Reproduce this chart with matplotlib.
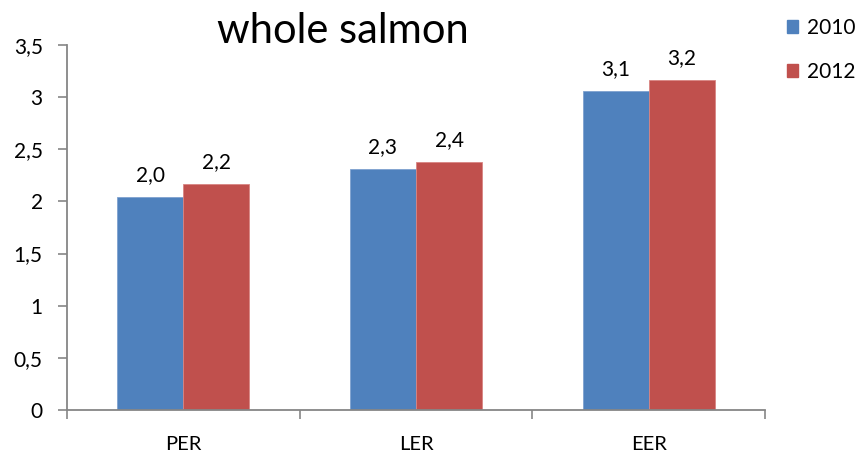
import numpy as np
import matplotlib.pyplot as plt
from matplotlib.patches import Patch

plt.rcParams['font.family'] = ['Lato', 'DejaVu Sans']

categories = ['PER', 'LER', 'EER']
series_names = ['2010', '2012']
values_2010 = [2.04, 2.31, 3.06]
values_2012 = [2.17, 2.38, 3.16]
y_ticks = [0, 0.5, 1, 1.5, 2, 2.5, 3, 3.5]

blue = '#4F81BD'
red = '#C0504D'
grey = '#868686'

fig = plt.figure(figsize=(8.63, 4.54), dpi=100)
ax = fig.add_axes([67 / 863, 1 - 410 / 454, (765 - 67) / 863, (410 - 45) / 454])

x = np.arange(len(categories))
w = 0.284
b1 = ax.bar(x - w / 2, values_2010, w, color=blue, edgecolor='#7FA2CF', linewidth=0.6)
b2 = ax.bar(x + w / 2, values_2012, w, color=red, edgecolor='#D88583', linewidth=0.6)

# data labels, comma decimals
for bars in (b1, b2):
    for r in bars:
        h = r.get_height()
        ax.annotate(f'{h:.1f}'.replace('.', ','), (r.get_x() + r.get_width() / 2, h),
                    xytext=(0, 11.5), textcoords='offset points', ha='center', va='baseline',
                    fontsize=15)

ax.set_xlim(-0.5, len(categories) - 0.5)
ax.set_ylim(0, 3.5)
ax.set_yticks(y_ticks)
ax.set_yticklabels([f'{t:g}'.replace('.', ',') for t in y_ticks], fontsize=15)
ax.set_xticks(x)
ax.set_xticklabels(categories, fontsize=14.5)
ax.set_xticks(np.arange(len(categories) + 1) - 0.5, minor=True)
ax.tick_params(axis='x', which='major', length=0, pad=19)
ax.tick_params(axis='x', which='minor', length=6.5, color=grey, width=1.2)
ax.tick_params(axis='y', length=6.5, color=grey, width=1.2, pad=11)

for s in ('top', 'right'):
    ax.spines[s].set_visible(False)
for s in ('left', 'bottom'):
    ax.spines[s].set_color(grey)
    ax.spines[s].set_linewidth(1.3)

fig.text(343 / 863, 1 - 43 / 454, 'whole salmon', ha='center', va='baseline', fontsize=30)

handles = [Patch(color=blue), Patch(color=red)]
fig.legend(handles, series_names, loc='upper left', bbox_to_anchor=(768 / 863, 1 + 1 / 454),
           frameon=False, fontsize=15, handlelength=0.55, handleheight=0.55,
           handletextpad=0.4, labelspacing=1.15)

fig.savefig('out.png', dpi=100)
